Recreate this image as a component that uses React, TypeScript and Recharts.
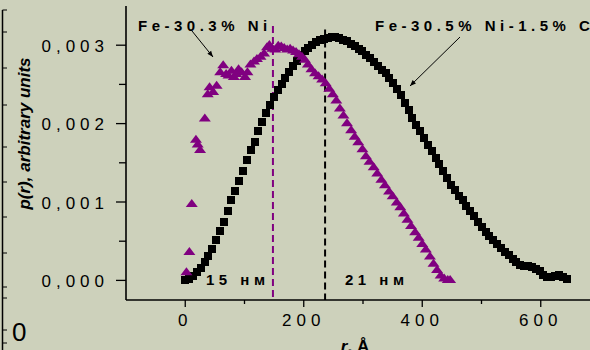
import { ScatterChart, Scatter, XAxis, YAxis, ReferenceLine } from 'recharts';

// r, Å (shared grid for the Fe-30.5% Ni-1.5% C curve)
const rFeNiC = [
  0, 6.5, 13, 19.5, 26, 32.5, 39, 45.5, 52, 58.5,
  65, 71.5, 78, 84.5, 91, 97.5, 104, 110.5, 117, 123.5,
  130, 136.5, 143, 149.5, 156, 162.5, 169, 175.5, 182, 188.5,
  195, 201.5, 208, 214.5, 221, 227.5, 234, 240.5, 247, 253.5,
  260, 266.5, 273, 279.5, 286, 292.5, 299, 305.5, 312, 318.5,
  325, 331.5, 338, 344.5, 351, 357.5, 364, 370.5, 377, 383.5,
  390, 396.5, 403, 409.5, 416, 422.5, 429, 435.5, 442, 448.5,
  455, 461.5, 468, 474.5, 481, 487.5, 494, 500.5, 507, 513.5,
  520, 526.5, 533, 539.5, 546, 552.5, 559, 565.5, 572, 578.5,
  585, 591.5, 598, 604.5, 611, 617.5, 624, 630.5, 637, 643.5,
];
// p(r) in units of 1e-3
const pFeNiC = [
  0.0, 0.02, 0.06, 0.11, 0.16, 0.23, 0.31, 0.4, 0.51, 0.63,
  0.75, 0.88, 1.02, 1.14, 1.27, 1.4, 1.53, 1.66, 1.77, 1.9,
  2.02, 2.13, 2.24, 2.34, 2.43, 2.51, 2.58, 2.66, 2.73, 2.8,
  2.87, 2.93, 2.97, 3.0, 3.04, 3.06, 3.08, 3.09, 3.1, 3.1,
  3.09, 3.07, 3.05, 3.02, 2.99, 2.95, 2.92, 2.88, 2.84, 2.79,
  2.74, 2.69, 2.64, 2.58, 2.52, 2.44, 2.36, 2.26, 2.17, 2.07,
  1.98, 1.9, 1.82, 1.73, 1.65, 1.56, 1.48, 1.39, 1.31, 1.22,
  1.15, 1.08, 1.02, 0.95, 0.89, 0.82, 0.75, 0.68, 0.62, 0.56,
  0.51, 0.46, 0.41, 0.36, 0.32, 0.27, 0.23, 0.2, 0.19, 0.18,
  0.17, 0.15, 0.12, 0.07, 0.04, 0.04, 0.06, 0.07, 0.04, 0.02,
];

const rFeNi = [
  2, 7, 11, 18, 21, 25, 33, 38, 41, 47,
  53, 59, 64, 69, 73, 78, 82, 86, 90, 95,
  101, 105, 110, 116, 121, 127, 133, 138, 142, 147,
  152, 157, 162, 167, 172, 177, 182, 187, 192, 197,
  202, 207, 213, 219, 225, 231, 237, 243, 249, 255,
  261, 267, 273, 280, 286, 292, 299, 305, 311, 318,
  324, 331, 337, 344, 350, 357, 363, 369, 375, 381,
  388, 394, 400, 406, 413, 419, 425, 431, 437, 443, 447,
];
const pFeNi = [
  0.11, 0.37, 0.98, 1.8, 1.74, 1.67, 2.07, 2.38, 2.47, 2.41,
  2.49, 2.66, 2.75, 2.64, 2.62, 2.68, 2.6, 2.64, 2.7, 2.66,
  2.6, 2.66, 2.76, 2.8, 2.83, 2.86, 2.9, 2.98, 3.01, 2.96,
  2.95, 3.0, 2.99, 2.97, 2.95, 2.96, 2.94, 2.92, 2.89, 2.86,
  2.82, 2.76, 2.7, 2.65, 2.61, 2.57, 2.52, 2.45, 2.38, 2.3,
  2.2, 2.11, 2.01, 1.92, 1.84, 1.77, 1.68, 1.59, 1.52, 1.45,
  1.37, 1.29, 1.22, 1.14, 1.08, 1.0, 0.94, 0.86, 0.78, 0.7,
  0.62, 0.55, 0.47, 0.4, 0.31, 0.22, 0.14, 0.07, 0.03, 0.01, 0.01,
];

const xTicks = [0, 100, 200, 300, 400, 500, 600];
const topTicks = [60, 140, 220, 300, 380, 460, 540, 620];
const yTicks = [0, 0.5, 1, 1.5, 2, 2.5, 3];

// dashed markers (Å)
const size15 = 148;
const size21 = 236;

const BG = '#cdd1bb';
const PURPLE = '#800080';
const FONT = '"Liberation Sans", Arial, sans-serif';

const blackData = rFeNiC.map((r, i) => ({ r, p: pFeNiC[i] }));
const purpleData = rFeNi.map((r, i) => ({ r, p: pFeNi[i] }));

const fmtY = (v: number) => (v / 1000).toFixed(3).replace('.', ',');

function XTick({ x, y, payload }: any) {
  const major = payload.value % 200 === 0;
  return (
    <g>
      <line x1={x} x2={x} y1={y - 7} y2={y - 7 + (major ? 7 : 4)} stroke="#000" strokeWidth={1.3} />
      {major && (
        <text x={x} y={y + 19} textAnchor="middle" fontSize={17} letterSpacing={5} fill="#000" fontFamily={FONT}>
          {payload.value}
        </text>
      )}
    </g>
  );
}

function YTick({ x, y, payload }: any) {
  const major = Number.isInteger(payload.value);
  return (
    <g>
      <line x1={x + 10 - (major ? 10 : 7)} x2={x + 10} y1={y} y2={y} stroke="#000" strokeWidth={1.3} />
      {major && (
        <text x={x - 7} y={y + 6.5} textAnchor="end" fontSize={17} letterSpacing={5} fill="#000" fontFamily={FONT}>
          {fmtY(payload.value)}
        </text>
      )}
    </g>
  );
}

const square = ({ cx, cy }: any) => (
  <rect x={cx - 4} y={cy - 4} width={8} height={8} fill="#000" shapeRendering="crispEdges" />
);

const triangle = ({ cx, cy }: any) => (
  <polygon points={`${cx},${cy - 4.5} ${cx - 6},${cy + 3.5} ${cx + 6},${cy + 3.5}`} fill={PURPLE} />
);

const stripTicks = [10, 32, 68, 105, 147, 182, 217, 253, 287, 298, 330, 343];

function Overlay() {
  return (
    <svg width={590} height={350} style={{ position: 'absolute', left: 0, top: 0, pointerEvents: 'none' }}>
      <defs>
        <marker id="ah" viewBox="0 0 10 10" refX="10" refY="5" markerWidth="7" markerHeight="6" orient="auto">
          <path d="M0,1 L10,5 L0,9 Z" fill="#000" />
        </marker>
      </defs>
      {/* edge of neighbouring panel */}
      <line x1={2.5} x2={2.5} y1={10} y2={350} stroke="#000" strokeWidth={1.5} />
      {stripTicks.map((t) => (
        <line key={t} x1={2.5} x2={7} y1={t} y2={t} stroke="#000" strokeWidth={1} />
      ))}
      <text x={12} y={341} fontSize={26} fontFamily={FONT} fill="#000">0</text>

      <text
        transform="translate(30,133.5) rotate(-90)"
        textAnchor="middle"
        fontSize={17}
        fontStyle="italic"
        fontWeight="bold"
        fontFamily={FONT}
        fill="#000"
      >
        p(r), arbitrary units
      </text>

      <text x={138} y={30.5} fontSize={15} fontWeight="bold" letterSpacing={4.5} fontFamily={FONT} fill="#000">
        Fe-30.3% Ni
      </text>
      <line x1={192} y1={31} x2={213} y2={57} stroke="#000" strokeWidth={1} markerEnd="url(#ah)" />

      <text x={375} y={31} fontSize={15} fontWeight="bold" letterSpacing={4.5} fontFamily={FONT} fill="#000">
        Fe-30.5% Ni-1.5% C
      </text>
      <line x1={460} y1={37} x2={410} y2={86} stroke="#000" strokeWidth={1} markerEnd="url(#ah)" />

      <text x={206} y={285} fontSize={15} fontWeight="bold" letterSpacing={4.5} fontFamily={FONT} fill="#000">
        15 нм
      </text>
      <text x={345} y={285} fontSize={15} fontWeight="bold" letterSpacing={4.5} fontFamily={FONT} fill="#000">
        21 нм
      </text>

      <text x={355} y={352} textAnchor="middle" fontSize={17} fontWeight="bold" fontFamily={FONT} fill="#000">
        <tspan fontStyle="italic">r</tspan>, Å
      </text>
    </svg>
  );
}

export default function App() {
  return (
    <div style={{ position: 'absolute', left: 0, top: 0, width: 590, height: 350, overflow: 'hidden', background: BG }}>
      <ScatterChart width={620} height={350} margin={{ top: 6, right: 20, bottom: 0, left: 0 }}>
        <XAxis
          xAxisId={0}
          type="number"
          dataKey="r"
          domain={[-100, 700]}
          ticks={xTicks}
          interval={0}
          height={50}
          tickSize={7}
          tickMargin={0}
          tickLine={false}
          tick={(props: any) => <XTick {...props} />}
          axisLine={{ stroke: '#000', strokeWidth: 1.6 }}
          allowDataOverflow
        />
        <XAxis
          xAxisId="top"
          orientation="top"
          type="number"
          domain={[-100, 700]}
          ticks={topTicks}
          interval={0}
          height={0}
          mirror
          tickSize={3}
          tick={false}
          tickLine={{ stroke: '#000' }}
          axisLine={{ stroke: '#000', strokeWidth: 1 }}
          allowDataOverflow
        />
        <YAxis
          type="number"
          dataKey="p"
          domain={[-0.25, 3.5]}
          ticks={yTicks}
          interval={0}
          width={126}
          tickSize={10}
          tickMargin={0}
          tickLine={false}
          tick={(props: any) => <YTick {...props} />}
          axisLine={{ stroke: '#000', strokeWidth: 1.6 }}
          allowDataOverflow
        />
        <Scatter data={blackData} shape={square} isAnimationActive={false} />
        <Scatter data={purpleData} shape={triangle} isAnimationActive={false} />
        <ReferenceLine
          segment={[{ x: size15, y: 3.245 }, { x: size15, y: -0.25 }]}
          stroke={PURPLE}
          strokeWidth={2}
          strokeDasharray="7 4"
        />
        <ReferenceLine
          segment={[{ x: size21, y: 3.2 }, { x: size21, y: -0.25 }]}
          stroke="#000"
          strokeWidth={2}
          strokeDasharray="7 4"
        />
      </ScatterChart>
      <Overlay />
    </div>
  );
}
